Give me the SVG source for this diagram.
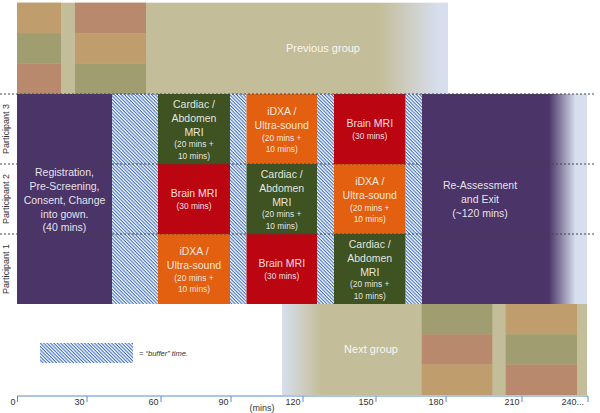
<svg xmlns="http://www.w3.org/2000/svg" width="600" height="413" viewBox="0 0 600 413">
<style>
text{font-family:"Liberation Sans",Arial,sans-serif}
.t{font-size:10.5px;fill:#fff;fill-opacity:.88;text-anchor:middle}
.s{font-size:8.4px;fill:#fff;fill-opacity:.88;text-anchor:middle}
.g{font-size:11px;fill:#fff;fill-opacity:.9;text-anchor:middle}
.p{font-size:9px;fill:#333;text-anchor:middle}
.ax{font-size:9px;fill:#333;text-anchor:end}
.purple{fill:#4b3568}.green{fill:#3f5221}.red{fill:#bb0612}.orange{fill:#e2600f}
.tan{fill:#c09d6d}.olive{fill:#a09d71}.salmon{fill:#b8896d}.beige{fill:#c4bd99}
.hatch{fill:url(#hatch)}
.sep{stroke:#444;stroke-width:1;stroke-dasharray:2 2;fill:none}
.axis{stroke:#5b8bd0;stroke-width:1;fill:none}
</style>
<defs>
<pattern id="hatch" width="2.4" height="2.4" patternUnits="userSpaceOnUse" patternTransform="rotate(45)">
<rect width="2.4" height="2.4" fill="#fff"/>
<rect width="2.4" height="1.1" fill="#3f70c6"/>
</pattern>
<linearGradient id="gPrev" x1="17" y1="0" x2="448" y2="0" gradientUnits="userSpaceOnUse">
<stop offset="0.84" stop-color="#c4bd99"/>
<stop offset="0.98" stop-color="#d7dfee"/>
</linearGradient>
<linearGradient id="gRe" x1="422" y1="0" x2="587" y2="0" gradientUnits="userSpaceOnUse">
<stop offset="0.77" stop-color="#4b3568"/>
<stop offset="0.93" stop-color="#d7dfee"/>
</linearGradient>
<linearGradient id="gNext" x1="282" y1="0" x2="587" y2="0" gradientUnits="userSpaceOnUse">
<stop offset="0" stop-color="#d7dfee"/>
<stop offset="0.13" stop-color="#c4bd99"/>
</linearGradient>
</defs>

<g id="previous-group">
<rect x="17" y="2.7" width="431" height="91.3" fill="url(#gPrev)"/>
<rect class="tan" x="17" y="2.7" width="44" height="30.4"/>
<rect class="olive" x="17" y="33.1" width="44" height="30.4"/>
<rect class="salmon" x="17" y="63.5" width="44" height="30.5"/>
<rect class="salmon" x="75" y="2.7" width="71" height="30.4"/>
<rect class="tan" x="75" y="33.1" width="71" height="30.4"/>
<rect class="olive" x="75" y="63.5" width="71" height="30.5"/>
<text class="g" x="323" y="52">Previous group</text>
</g>

<g id="next-group">
<rect x="282" y="304" width="305" height="91" fill="url(#gNext)"/>
<rect class="olive" x="421.7" y="304" width="70.6" height="30.3"/>
<rect class="salmon" x="421.7" y="334.3" width="70.6" height="30.3"/>
<rect class="tan" x="421.7" y="364.6" width="70.6" height="30.4"/>
<rect class="tan" x="505.7" y="304" width="71.3" height="30.3"/>
<rect class="olive" x="505.7" y="334.3" width="71.3" height="30.3"/>
<rect class="salmon" x="505.7" y="364.6" width="71.3" height="30.4"/>
<text class="g" x="371" y="353">Next group</text>
</g>

<g id="registration">
<rect class="purple" x="17" y="94" width="95" height="210"/>
<text class="t" x="64.5" y="176">Registration,</text>
<text class="t" x="64.5" y="190">Pre-Screening,</text>
<text class="t" x="64.5" y="204">Consent, Change</text>
<text class="t" x="64.5" y="218">into gown.</text>
<text class="t" x="64.5" y="231">(40 mins)</text>
</g>

<g id="buffers">
<rect class="hatch" x="112" y="94" width="46" height="210"/>
<rect class="hatch" x="230" y="94" width="16.5" height="210"/>
<rect class="hatch" x="317" y="94" width="17" height="210"/>
<rect class="hatch" x="405.5" y="94" width="16.5" height="210"/>
</g>

<g id="p3-cardiac">
<rect class="green" x="158" y="94" width="72" height="70"/>
<text class="t" x="194" y="108">Cardiac /</text>
<text class="t" x="194" y="122">Abdomen</text>
<text class="t" x="194" y="136">MRI</text>
<text class="s" x="194" y="147">(20 mins +</text>
<text class="s" x="194" y="159">10 mins)</text>
</g>
<g id="p3-idxa">
<rect class="orange" x="246.5" y="94" width="70.5" height="70"/>
<text class="t" x="281.75" y="115">iDXA /</text>
<text class="t" x="281.75" y="128.5">Ultra-sound</text>
<text class="s" x="281.75" y="141">(20 mins +</text>
<text class="s" x="281.75" y="151.5">10 mins)</text>
</g>
<g id="p3-brain">
<rect class="red" x="334" y="94" width="71.5" height="70"/>
<text class="t" x="369.75" y="127">Brain MRI</text>
<text class="s" x="369.75" y="139">(30 mins)</text>
</g>

<g id="p2-brain">
<rect class="red" x="158" y="164" width="72" height="70"/>
<text class="t" x="194" y="197">Brain MRI</text>
<text class="s" x="194" y="209">(30 mins)</text>
</g>
<g id="p2-cardiac">
<rect class="green" x="246.5" y="164" width="70.5" height="70"/>
<text class="t" x="281.75" y="178">Cardiac /</text>
<text class="t" x="281.75" y="192">Abdomen</text>
<text class="t" x="281.75" y="206">MRI</text>
<text class="s" x="281.75" y="217">(20 mins +</text>
<text class="s" x="281.75" y="229">10 mins)</text>
</g>
<g id="p2-idxa">
<rect class="orange" x="334" y="164" width="71.5" height="70"/>
<text class="t" x="369.75" y="185">iDXA /</text>
<text class="t" x="369.75" y="198.5">Ultra-sound</text>
<text class="s" x="369.75" y="211">(20 mins +</text>
<text class="s" x="369.75" y="221.5">10 mins)</text>
</g>

<g id="p1-idxa">
<rect class="orange" x="158" y="234" width="72" height="70"/>
<text class="t" x="194" y="255">iDXA /</text>
<text class="t" x="194" y="268.5">Ultra-sound</text>
<text class="s" x="194" y="281">(20 mins +</text>
<text class="s" x="194" y="291.5">10 mins)</text>
</g>
<g id="p1-brain">
<rect class="red" x="246.5" y="234" width="70.5" height="70"/>
<text class="t" x="281.75" y="267">Brain MRI</text>
<text class="s" x="281.75" y="279">(30 mins)</text>
</g>
<g id="p1-cardiac">
<rect class="green" x="334" y="234" width="71.5" height="70"/>
<text class="t" x="369.75" y="248">Cardiac /</text>
<text class="t" x="369.75" y="262">Abdomen</text>
<text class="t" x="369.75" y="276">MRI</text>
<text class="s" x="369.75" y="287">(20 mins +</text>
<text class="s" x="369.75" y="299">10 mins)</text>
</g>

<g id="reassessment">
<rect x="422" y="94" width="165" height="210" fill="url(#gRe)"/>
<text class="t" x="480" y="189">Re-Assessment</text>
<text class="t" x="480" y="203">and Exit</text>
<text class="t" x="480" y="217">(~120 mins)</text>
</g>

<g id="connectors">
<path class="sep" d="M0 94H594M0 164H594M0 234H594"/>
</g>

<g id="participants">
<text class="p" transform="translate(8.5,129) rotate(-90)">Participant 3</text>
<text class="p" transform="translate(8.5,199) rotate(-90)">Participant 2</text>
<text class="p" transform="translate(8.5,269) rotate(-90)">Participant 1</text>
</g>

<g id="legend">
<rect class="hatch" x="40" y="343" width="93" height="20"/>
<text x="139" y="355.5" style="font-size:7.5px;font-style:italic;fill:#333">= “buffer” time.</text>
</g>

<g id="axis">
<path class="axis" d="M17 396H588M17.5 396V402M87 396V402M161 396V402M231 396V402M303 396V402M376 396V402M446 396V402M522 396V402M588 396V402"/>
<text class="ax" x="15.5" y="405">0</text>
<text class="ax" x="84.5" y="405">30</text>
<text class="ax" x="158.5" y="405">60</text>
<text class="ax" x="228.5" y="405">90</text>
<text class="ax" x="300.5" y="405">120</text>
<text class="ax" x="373.5" y="405">150</text>
<text class="ax" x="443.5" y="405">180</text>
<text class="ax" x="519.5" y="405">210</text>
<text class="ax" x="584" y="405">240...</text>
<text x="262" y="411" style="font-size:9px;fill:#333;text-anchor:middle">(mins)</text>
</g>
</svg>
